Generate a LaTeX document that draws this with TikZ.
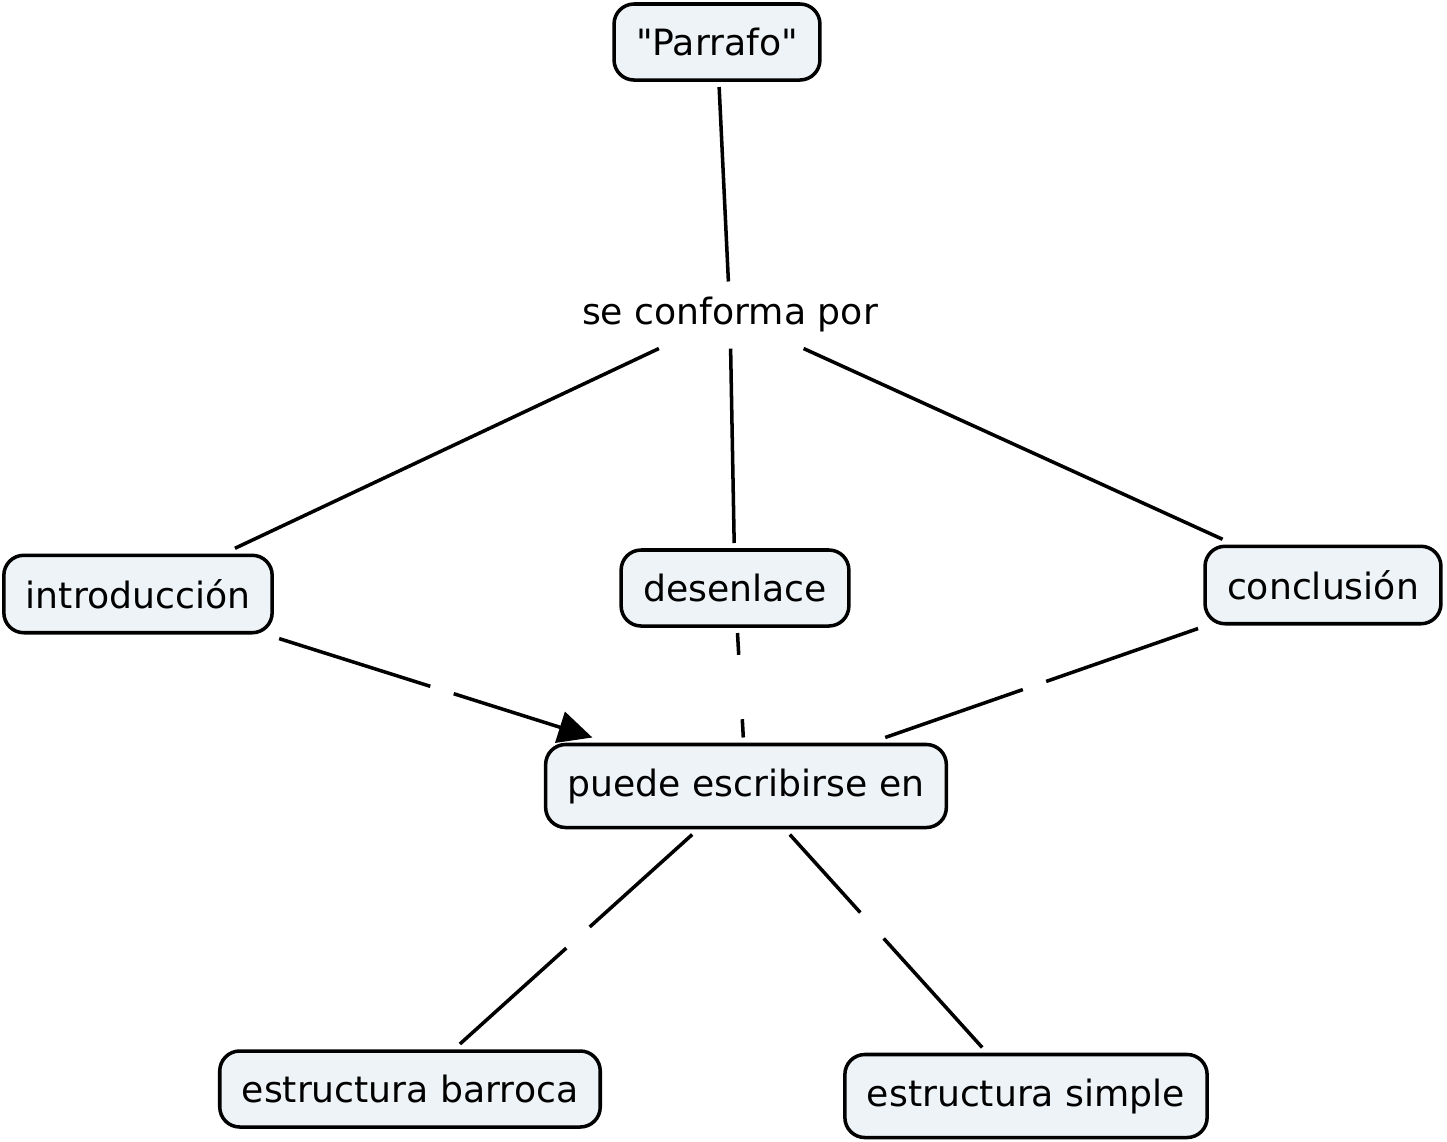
\documentclass[tikz,border=0pt]{standalone}
\usepackage{fontspec}
\setmainfont{DejaVu Sans}
\usetikzlibrary{arrows.meta,calc,positioning}
\definecolor{fondo}{RGB}{237,243,246}
\tikzset{%
	>={Triangle[width=3.2mm,length=3.4mm]},
	% Specifications for style of nodes:
	base/.style = {rectangle, rounded corners=2mm, draw=black, line width=1pt,
	fill=fondo, text centered},
	concept/.style = {base, inner xsep=2.2mm, inner ysep=2.4mm, outer sep=0.7mm},
	linkphrase/.style = {inner xsep=1.2mm, inner ysep=1.2mm, outer sep=0.4mm},
	linkgap/.style = {rectangle, minimum width=2.2mm, minimum height=6.3mm,
	inner sep=0pt},
	link/.style = {line width=1pt}
}

\begin{document}
\begin{tikzpicture}[x=0.1mm, y=-0.1mm,
		every node/.style={font=\fontsize{10.3pt}{12.4pt}\selectfont}]
		\useasboundingbox (0,0) rectangle (1447,1141);
		% Specification of nodes (position, etc.)
		
		\node (parrafo)    [concept]    at (717,42)    {\textquotedbl Parrafo\textquotedbl};
		\node (conforma)   [linkphrase] at (730,315)   {se conforma por};
		\node (intro)      [concept]    at (138,594)   {introducción};
		\node (desenlace)  [concept]    at (735,588)   {desenlace};
		\node (conclusion) [concept]    at (1323,585)  {conclusión};
		\node (puede)      [concept]    at (746,786)   {puede escribirse en};
		\node (barroca)    [concept]    at (410,1089)  {estructura barroca};
		\node (simple)     [concept]    at (1026,1096) {estructura simple};
		
		% empty linking phrases
		\node (g1) [linkgap] at ($(intro)!0.5!(puede)$) {};
		\node (g2) [linkgap] at ($(desenlace)!0.5!(puede)$) {};
		\node (g3) [linkgap] at ($(conclusion)!0.5!(puede)$) {};
		\node (g4) [linkgap] at ($(puede)!0.5!(barroca)$) {};
		\node (g5) [linkgap] at ($(puede)!0.45!(simple)$) {};
		
		\draw[link] (parrafo) -- (conforma);
		\draw[link] (conforma) -- (intro);
		\draw[link] (conforma) -- (desenlace);
		\draw[link] (conforma) -- (conclusion);
		\draw[link] (intro) -- (g1);
		\draw[link,->] (g1) -- (puede);
		\draw[link] (desenlace) -- (g2) (g2) -- (puede);
		\draw[link] (conclusion) -- (g3) (g3) -- (puede);
		\draw[link] (puede) -- (g4) (g4) -- (barroca);
		\draw[link] (puede) -- (g5) (g5) -- (simple);
		
\end{tikzpicture}
\end{document}
